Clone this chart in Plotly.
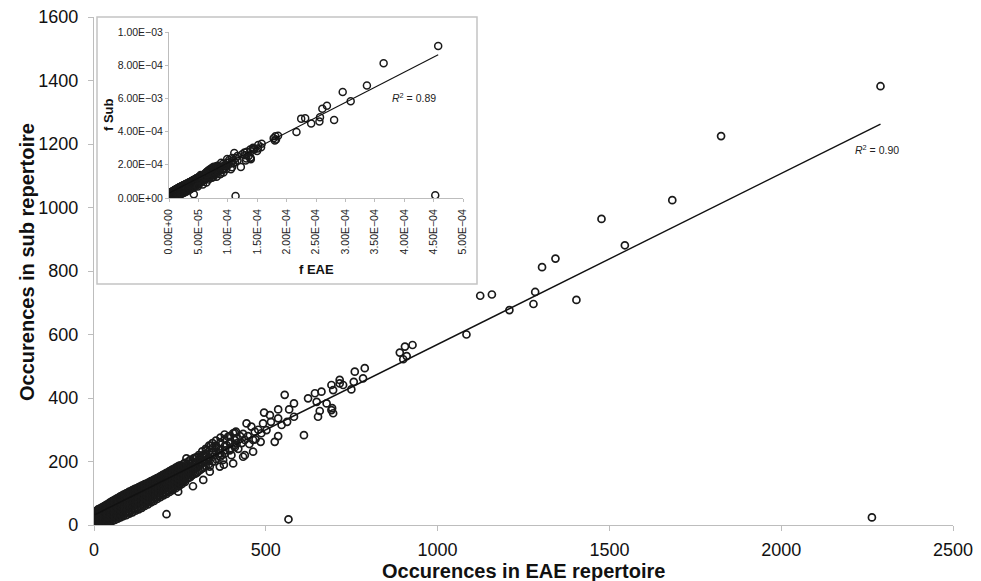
import plotly.graph_objects as go

# ---------------- data (read / estimated from the picture) ----------------
# Dense low-count cloud, estimated column by column: (EAE count, [sub counts])
cloud_cols = [
    (2, [3, 11, 19, 28, 35, 42]),
    (5, [7, 15, 23, 31, 39]),
    (9, [5, 13, 22, 30, 38, 46]),
    (13, [9, 18, 26, 35, 44, 50]),
    (17, [8, 16, 25, 33, 43, 51]),
    (21, [4, 12, 21, 30, 39, 48, 54]),
    (25, [10, 19, 28, 38, 47, 56]),
    (29, [6, 15, 24, 33, 43, 52, 59]),
    (33, [12, 22, 31, 42, 52, 61]),
    (37, [8, 17, 27, 37, 47, 57, 64]),
    (41, [14, 25, 34, 45, 55, 66]),
    (45, [10, 20, 30, 40, 51, 61, 70]),
    (49, [17, 28, 39, 51, 61, 72]),
    (53, [13, 23, 34, 45, 56, 67, 75]),
    (57, [21, 32, 44, 55, 66, 77]),
    (61, [16, 27, 38, 50, 61, 72, 80]),
    (65, [25, 36, 47, 59, 71, 82]),
    (69, [20, 31, 42, 54, 65, 77, 85]),
    (73, [29, 41, 53, 64, 75, 87]),
    (77, [24, 35, 47, 59, 70, 82, 90]),
    (81, [32, 44, 56, 69, 80, 92]),
    (85, [28, 39, 51, 63, 75, 87, 95]),
    (90, [36, 49, 61, 73, 86, 97]),
    (94, [31, 43, 55, 67, 80, 92, 100]),
    (99, [41, 53, 66, 77, 89, 102]),
    (103, [36, 48, 60, 72, 84, 96, 105]),
    (108, [45, 58, 70, 83, 95, 107]),
    (112, [40, 52, 64, 77, 89, 101, 110]),
    (117, [50, 62, 74, 87, 100, 112]),
    (121, [45, 57, 69, 81, 94, 106, 115]),
    (126, [54, 67, 79, 92, 104, 116]),
    (130, [49, 61, 73, 86, 98, 110, 119]),
    (135, [59, 71, 84, 97, 109, 121]),
    (139, [54, 66, 78, 91, 103, 115, 124]),
    (144, [64, 77, 89, 101, 113, 126]),
    (148, [60, 71, 83, 95, 107, 120, 129]),
    (153, [70, 82, 95, 106, 118, 130]),
    (157, [65, 77, 89, 101, 113, 125, 133]),
    (162, [75, 87, 99, 112, 123, 135]),
    (166, [71, 82, 94, 106, 118, 130, 138]),
    (171, [81, 93, 106, 117, 129, 140]),
    (175, [76, 88, 100, 112, 124, 135, 143]),
    (180, [86, 98, 110, 123, 134, 145]),
    (184, [82, 93, 105, 117, 129, 140, 148]),
    (189, [92, 104, 116, 128, 139, 150]),
    (193, [88, 99, 111, 122, 134, 145, 153]),
    (198, [97, 110, 121, 133, 145, 156]),
    (202, [93, 104, 116, 128, 140, 151, 159]),
    (207, [102, 114, 127, 138, 150, 161]),
    (211, [98, 109, 121, 133, 145, 156, 164]),
    (216, [108, 120, 132, 145, 156, 166]),
    (220, [104, 115, 127, 139, 150, 161, 170]),
    (225, [113, 126, 137, 149, 161, 172]),
    (229, [110, 121, 133, 144, 156, 167, 175]),
    (234, [119, 131, 144, 155, 166, 177]),
    (238, [116, 127, 139, 150, 162, 172, 181]),
    (243, [125, 137, 149, 161, 172, 183]),
    (247, [122, 134, 145, 156, 167, 178, 186]),
    (252, [131, 143, 155, 166, 177, 188]),
    (256, [129, 140, 151, 162, 173, 183]),
    (261, [138, 150, 161, 173, 184, 193]),
    (265, [136, 148, 159, 170, 182, 196]),
    (270, [146, 158, 170, 181, 192]),
    (275, [148, 160, 172, 186, 200]),
    (280, [151, 165, 178, 192, 205]),
    (285, [156, 170, 184, 200]),
    (290, [160, 175, 190, 210]),
    (295, [162, 178, 195, 212]),
    (300, [165, 182, 198, 214]),
    (305, [170, 188, 205, 220]),
    (310, [174, 192, 212]),
    (315, [178, 196, 215, 232]),
    (320, [181, 200, 222]),
    (325, [186, 204, 224, 240]),
    (335, [192, 212, 232, 250]),
    (345, [200, 222, 242, 258]),
    (355, [208, 230, 250, 266]),
    (368, [215, 238, 260, 275]),
    (380, [225, 248, 270, 285]),
    (395, [235, 258, 280]),
    (410, [245, 268, 290]),
]

# Individually visible points (EAE count, sub count)
eae_sparse = [318, 327, 337, 337, 347, 356, 366, 366, 376, 378, 386, 390, 400, 405,
              405, 413, 415, 415, 434, 434, 439, 444, 458, 463, 468, 485, 487, 492,
              495, 502, 512, 515, 526, 536, 536, 536, 546, 555, 562, 568, 582, 582,
              611, 623, 643, 648, 652, 662, 677, 691, 691, 696, 696, 715, 725, 749,
              756, 759, 783, 788, 890, 905, 910, 900, 927, 1084, 1124, 1158, 1209,
              1279, 1284, 1304, 1343, 1404, 1477, 1545, 1683, 1825, 2289, 2264, 566,
              211, 288, 245, 269, 318, 463, 439, 657, 693, 715, 330, 345, 352, 362,
              372, 382, 395, 398, 408, 420, 425, 430, 448, 452, 470, 478, 340, 310, 322]
sub_sparse = [205, 236, 184, 168, 215, 247, 226, 184, 205, 190, 252, 278, 220, 194,
              289, 294, 257, 273, 287, 215, 268, 320, 310, 268, 294, 262, 289, 320,
              354, 299, 346, 325, 262, 280, 336, 364, 315, 410, 325, 364, 383, 341,
              283, 399, 415, 388, 341, 420, 383, 362, 441, 352, 425, 457, 441, 427,
              451, 483, 462, 494, 543, 562, 532, 522, 567, 600, 722, 726, 677,
              696, 734, 812, 839, 709, 964, 881, 1023, 1225, 1382, 24, 18,
              34, 122, 105, 210, 142, 231, 220, 359, 368, 446, 200, 228, 200, 240,
              220, 235, 240, 262, 250, 240, 280, 258, 280, 255, 270, 300, 250, 190, 215]

# Repertoire sizes used for the frequency inset
total_eae = 5.0e6
total_sub = 1.51e6

# Trend lines
main_slope, main_intercept, main_r2 = 0.538, 31.0, "0.90"
inset_slope, inset_intercept, inset_r2 = 1.82, 3.0e-5, "0.89"

x_ticks = [0, 500, 1000, 1500, 2000, 2500]
y_ticks = [0, 200, 400, 600, 800, 1000, 1200, 1400, 1600]
inset_x_tickvals = [0, 5e-5, 1e-4, 1.5e-4, 2e-4, 2.5e-4, 3e-4, 3.5e-4, 4e-4, 4.5e-4, 5e-4]
inset_x_ticktext = ["0.00E+00", "5.00E\u221205", "1.00E\u221204", "1.50E\u221204", "2.00E\u221204",
                    "2.50E\u221204", "3.00E\u221204", "3.50E\u221204", "4.00E\u221204",
                    "4.50E\u221204", "5.00E\u221204"]
inset_y_tickvals = [0, 2e-4, 4e-4, 6e-4, 8e-4, 1e-3]
inset_y_ticktext = ["0.00E+00", "2.00E\u221204", "4.00E\u221204", "6.00E\u221203",
                    "8.00E\u221204", "1.00E\u221203"]

# ---------------- build ----------------
eae = []
sub = []
for xc, ys in cloud_cols:
    for yv in ys:
        eae.append(xc)
        sub.append(yv)
eae += eae_sparse
sub += sub_sparse

f_eae = [v / total_eae for v in eae]
f_sub = [v / total_sub for v in sub]

FONT = "Liberation Sans, Arial, Helvetica, sans-serif"
MCOL = "#1a1a1a"
AXCOL = "#bdbdbd"

fig = go.Figure()

fig.add_trace(go.Scatter(
    x=eae, y=sub, mode="markers",
    marker=dict(symbol="circle-open", size=7, color=MCOL, line=dict(width=1.7, color=MCOL)),
    showlegend=False, hoverinfo="skip"))

tx = [min(eae), max(eae)]
fig.add_trace(go.Scatter(
    x=tx, y=[main_slope * v + main_intercept for v in tx], mode="lines",
    line=dict(color="#111111", width=1.4), showlegend=False, hoverinfo="skip"))

fig.add_trace(go.Scatter(
    x=f_eae, y=f_sub, mode="markers", xaxis="x2", yaxis="y2",
    marker=dict(symbol="circle-open", size=7, color=MCOL, line=dict(width=1.5, color=MCOL)),
    showlegend=False, hoverinfo="skip"))

itx = [min(f_eae), max(f_eae)]
fig.add_trace(go.Scatter(
    x=itx, y=[inset_slope * v + inset_intercept for v in itx], mode="lines",
    xaxis="x2", yaxis="y2",
    line=dict(color="#111111", width=1.1), showlegend=False, hoverinfo="skip"))

W, H = 981, 581
ml, mr, mt, mb = 94, 28, 17, 56
pw, ph = W - ml - mr, H - mt - mb


def px_x(p):
    return (p - ml) / pw


def px_y(p):
    return (H - mb - p) / ph


common = dict(showline=True, linecolor=AXCOL, ticks="outside", tickcolor=AXCOL,
              showgrid=False, zeroline=False, automargin=False)

fig.update_layout(
    width=W, height=H,
    margin=dict(l=ml, r=mr, t=mt, b=mb, autoexpand=False),
    paper_bgcolor="white", plot_bgcolor="rgba(0,0,0,0)",
    font=dict(family=FONT, color="#111111"),
    xaxis=dict(range=[0, 2500], tickvals=x_ticks, ticktext=[str(v) for v in x_ticks],
               linewidth=1.2, ticklen=5, ticklabelstandoff=3,
               tickfont=dict(size=18, family=FONT, color="#111111"), **common),
    yaxis=dict(range=[0, 1600], tickvals=y_ticks, ticktext=[str(v) for v in y_ticks],
               linewidth=1.2, ticklen=5, ticklabelstandoff=6,
               tickfont=dict(size=18, family=FONT, color="#111111"), **common),
    xaxis2=dict(domain=[px_x(169), px_x(463)], anchor="y2", range=[0, 5e-4],
                tickvals=inset_x_tickvals, ticktext=inset_x_ticktext, tickangle=-90,
                linewidth=1, ticklen=3, ticklabelstandoff=3,
                tickfont=dict(size=10.5, family=FONT, color="#222222"), **common),
    yaxis2=dict(domain=[px_y(198), px_y(32)], anchor="x2", range=[0, 1e-3],
                tickvals=inset_y_tickvals, ticktext=inset_y_ticktext,
                linewidth=1, ticklen=3,
                tickfont=dict(size=10.5, family=FONT, color="#222222"), **common),
    shapes=[dict(type="rect", xref="paper", yref="paper",
                 x0=px_x(97), x1=px_x(477), y0=px_y(284), y1=px_y(17),
                 line=dict(color="#c4c4c4", width=1.5), fillcolor="white", layer="below")],
)

ann = [
    dict(text="<b>Occurences in EAE repertoire</b>", x=px_x(523), y=px_y(571),
         font=dict(size=20, family=FONT, color="#111111")),
    dict(text="<b>Occurences in sub repertoire</b>", x=px_x(27), y=px_y(262), textangle=-90,
         font=dict(size=20, family=FONT, color="#111111")),
    dict(text="<b>f Sub</b>", x=px_x(108), y=px_y(115), textangle=-90,
         font=dict(size=13, family=FONT, color="#111111")),
    dict(text="<b>f EAE</b>", x=px_x(316), y=px_y(269),
         font=dict(size=13, family=FONT, color="#111111")),
    dict(text="<i>R</i><sup>2</sup> = " + main_r2, x=px_x(877), y=px_y(149),
         font=dict(size=10.5, family=FONT, color="#222222")),
    dict(text="<i>R</i><sup>2</sup> = " + inset_r2, x=px_x(414), y=px_y(97),
         font=dict(size=10.5, family=FONT, color="#222222")),
]
for a in ann:
    a.update(xref="paper", yref="paper", showarrow=False, xanchor="center", yanchor="middle")
fig.update_layout(annotations=ann)

# remove the browser's default page margin so the 981x581 figure fills the window
fig.write_html("out.html", config={"displayModeBar": False},
               post_script="document.body.style.margin='0px';")
